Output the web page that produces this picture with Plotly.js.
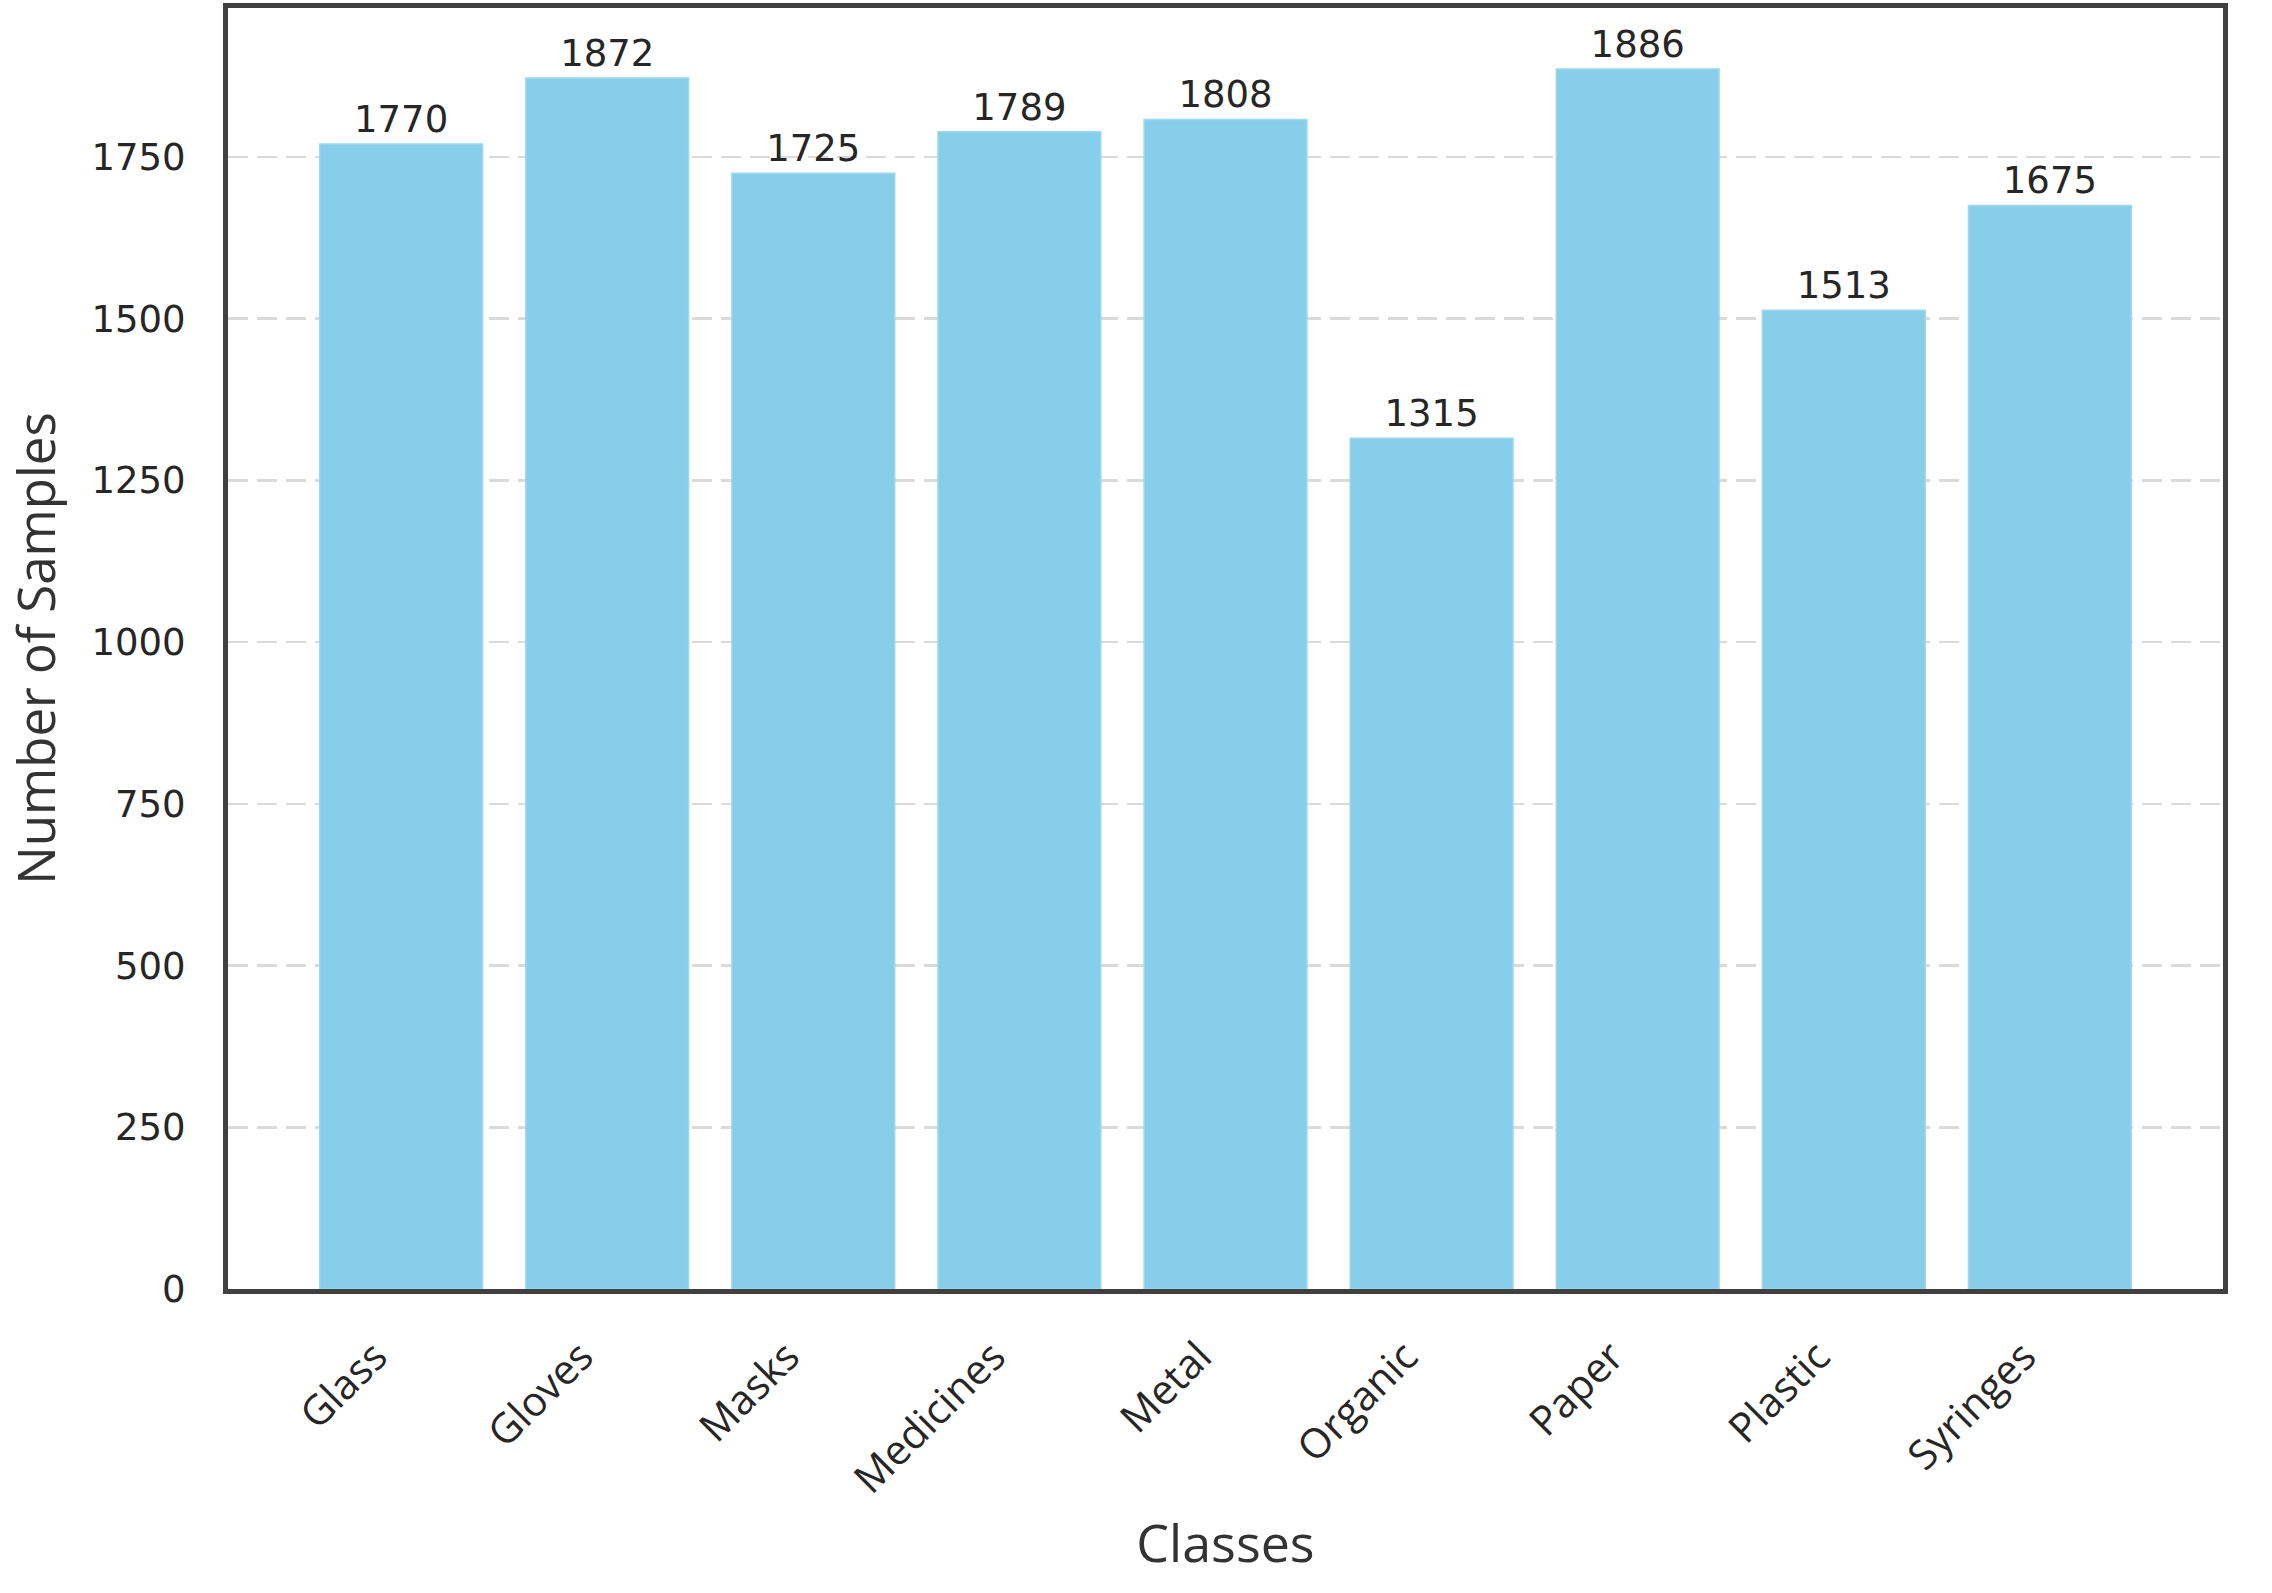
<!DOCTYPE html>
<html>
<head>
<meta charset="utf-8">
<script src="https://cdn.plot.ly/plotly-3.0.1.min.js"></script>
<style>html,body{margin:0;padding:0;background:#fff;}#chart{width:2272px;height:1593px;}</style>
</head>
<body>
<div id="chart"></div>
<script>
const classes = ["Glass", "Gloves", "Masks", "Medicines", "Metal", "Organic", "Paper", "Plastic", "Syringes"];
const samples = [1770, 1872, 1725, 1789, 1808, 1315, 1886, 1513, 1675];
const yTicks = [0, 250, 500, 750, 1000, 1250, 1500, 1750];

const yMax = Math.max(...samples) * 1.05;

const trace = {
  type: "bar",
  x: classes,
  y: samples,
  marker: { color: "#87CEEB", line: { color: "#9fd7ee", width: 1.5 } },
  text: samples.map(String),
  textposition: "outside",
  cliponaxis: false,
  constraintext: "none",
  textfont: { family: "DejaVu Sans", size: 37, color: "#262626" },
  hoverinfo: "skip"
};

const layout = {
  width: 2272,
  height: 1593,
  margin: { l: 228, r: 49, t: 8, b: 304 },
  paper_bgcolor: "#ffffff",
  plot_bgcolor: "#ffffff",
  bargap: 0.21,
  showlegend: false,
  xaxis: {
    type: "category",
    range: [-0.84, 8.84],
    showgrid: false,
    zeroline: false,
    showline: true,
    linecolor: "#404040",
    linewidth: 5,
    mirror: true,
    ticks: "",
    tickangle: -45,
    ticklabelstandoff: 22,
    ticklabelshift: -26,
    tickfont: { family: "Open Sans", size: 41, color: "#262626" },
    title: { text: "Classes", font: { family: "Open Sans", size: 52, color: "#333333" }, standoff: 24 },
    automargin: false
  },
  yaxis: {
    range: [0, yMax],
    tickvals: yTicks,
    ticktext: yTicks.map(String),
    showgrid: true,
    gridcolor: "#dadada",
    gridwidth: 2.5,
    griddash: "20px,9px",
    zeroline: false,
    showline: true,
    linecolor: "#404040",
    linewidth: 5,
    mirror: true,
    ticks: "",
    ticklabelstandoff: 30,
    tickfont: { family: "DejaVu Sans", size: 37, color: "#262626" },
    title: { text: "Number of Samples", font: { family: "Open Sans", size: 51, color: "#333333" }, standoff: 38 },
    automargin: false
  }
};

Plotly.newPlot("chart", [trace], layout, { displayModeBar: false, staticPlot: true });
</script>
</body>
</html>
